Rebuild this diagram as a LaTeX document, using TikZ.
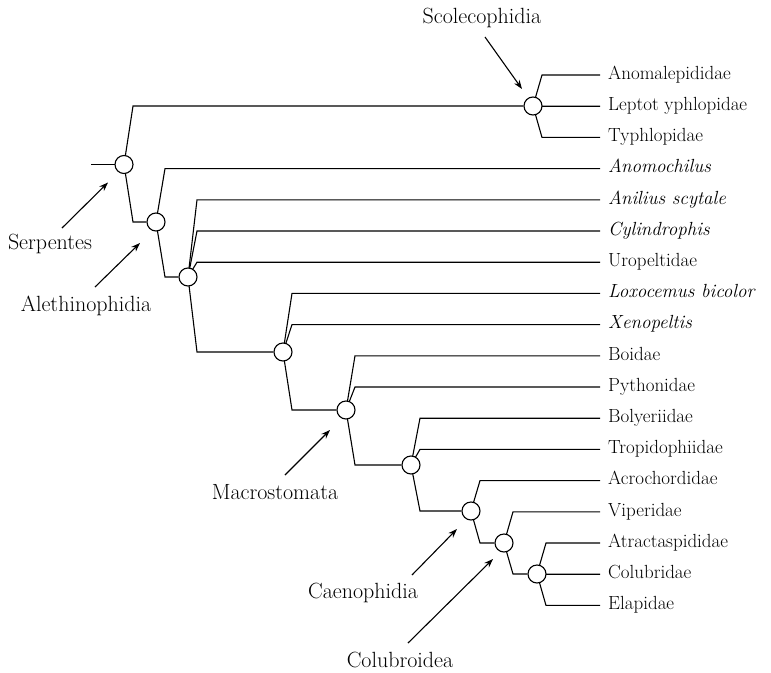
\documentclass[tikz,border=0pt]{standalone}
\usetikzlibrary{arrows.meta,backgrounds}

\begin{document}
\begin{tikzpicture}[
  x=1pt, y=-1pt,
  font=\fontsize{19}{22}\selectfont,
  clade/.style={circle, draw, line width=1.1pt, fill=white,
                minimum size=18pt, inner sep=0pt},
  taxon/.style={anchor=west, inner xsep=8pt, inner ysep=0pt,
                text height=13pt, text depth=4.5pt},
  cladename/.style={font=\fontsize{22}{26}\selectfont, inner sep=1pt},
  branch/.style={line width=1.1pt},
  pointer/.style={-{Stealth[length=9pt, width=6.5pt]}, line width=1.1pt},
]
\useasboundingbox (0,0) rectangle (771,672);

% ================= terminal taxa ===================================
\foreach \n/\t [count=\i from 0] in {
    anomal/Anomalepididae, lepto/Leptot yphlopidae, typhl/Typhlopidae,
    anomo/\textit{Anomochilus}, anil/\textit{Anilius scytale},
    cylin/\textit{Cylindrophis}, uropel/Uropeltidae,
    loxo/\textit{Loxocemus bicolor}, xenop/\textit{Xenopeltis},
    boid/Boidae, python/Pythonidae, bolyer/Bolyeriidae,
    tropid/Tropidophiidae, acro/Acrochordidae, viper/Viperidae,
    atract/Atractaspididae, colubr/Colubridae, elapid/Elapidae}
  \node[taxon] (\n) at (600, 75+31.2*\i) {\t};

% ================= internal nodes ==================================
\node[clade] (serp)  at (124,164.5) {};
\node[clade] (scol)  at (533,106) {};
\node[clade] (aleth) at (156,222) {};
\node[clade] (uro)   at (188,277) {};
\node[clade] (xeno)  at (283,352) {};
\node[clade] (macro) at (346,410) {};
\node[clade] (tropi) at (411,465) {};
\node[clade] (caeno) at (471,511) {};
\node[clade] (colub) at (504,543) {};
\node[clade] (elap)  at (537,574) {};
\coordinate (root) at (91,164.5);

% ================= branches ========================================
\begin{scope}[on background layer]
  \draw[branch] (root) -- (serp.center);
  \foreach \p/\c in {
      serp/scol, serp/aleth,
      scol/anomal, scol/lepto, scol/typhl,
      aleth/anomo, aleth/uro,
      uro/anil, uro/cylin, uro/uropel, uro/xeno,
      xeno/loxo, xeno/xenop, xeno/macro,
      macro/boid, macro/python, macro/tropi,
      tropi/bolyer, tropi/tropid, tropi/caeno,
      caeno/acro, caeno/colub,
      colub/viper, colub/elap,
      elap/atract, elap/colubr, elap/elapid}
    \draw[branch] (\p.center) -- ([xshift=9pt]\p.center |- \c.west) -- (\c.west);
\end{scope}

% ================= clade names =====================================
\node[cladename] (scolname)  at (482,18)  {Scolecophidia};
\node[cladename] (serpname)  at (50,244)  {Serpentes};
\node[cladename] (alethname) at (86,306)  {Alethinophidia};
\node[cladename] (macroname) at (275,492) {Macrostomata};
\node[cladename] (caenoname) at (363,593) {Caenophidia};
\node[cladename] (colubname) at (400,660) {Colubroidea};

% arrows point at the clade they name
\draw[pointer] ([shift={(3,19)}]scolname.center)   -- ([shift={(-11,-17)}]scol.center);
\draw[pointer] ([shift={(12,-16)}]serpname.center)  -- ([shift={(-16,18)}]serp.center);
\draw[pointer] ([shift={(9,-19)}]alethname.center)  -- ([shift={(-16,21)}]aleth.center);
\draw[pointer] ([shift={(10,-17)}]macroname.center) -- ([shift={(-16,20)}]macro.center);
\draw[pointer] ([shift={(49,-18)}]caenoname.center) -- ([shift={(-14,18)}]caeno.center);
\draw[pointer] ([shift={(8,-17)}]colubname.center)  -- ([shift={(-11,16)}]colub.center);

\end{tikzpicture}
\end{document}
